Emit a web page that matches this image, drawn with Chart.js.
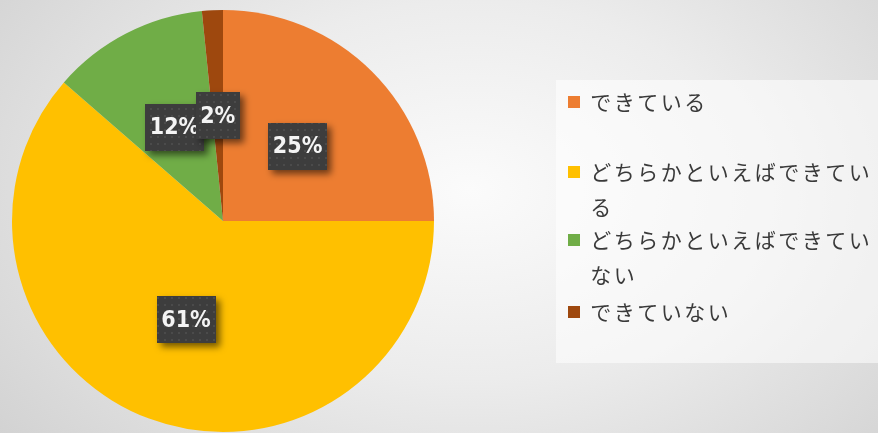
<!DOCTYPE html>
<html>
<head>
<meta charset="utf-8">
<script src="https://cdn.jsdelivr.net/npm/chart.js@4.4.1/dist/chart.umd.min.js"></script>
<style>
html,body{margin:0;padding:0;}
body{width:878px;height:433px;overflow:hidden;background:radial-gradient(ellipse 620px 420px at 470px 190px,#fbfbfb 0%,#ececec 45%,#d0d0d0 100%);}
#wrap{position:relative;width:878px;height:433px;}
</style>
</head>
<body>
<div id="wrap"><canvas id="c" width="878" height="433"></canvas></div>
<script>
// data
const categories=['できている','どちらかといえばできている','どちらかといえばできていない','できていない'];
const shares=[25.0,61.4,12.0,1.6];
const sliceColors=['#ED7D31','#FFC000','#70AD47','#9E480E'];

// dotted dark pattern for the value boxes
function makePattern(ctx){
const t=document.createElement('canvas');
t.width=7;t.height=7;
const g=t.getContext('2d');
g.fillStyle='#3d3d3d';g.fillRect(0,0,7,7);
g.fillStyle='#4b4b4b';g.fillRect(3,3,2,2);
return ctx.createPattern(t,'repeat');
}

const valueBoxes={
id:'valueBoxes',
afterDatasetsDraw(chart){
const ctx=chart.ctx;
const meta=chart.getDatasetMeta(0);
const pat=makePattern(ctx);
ctx.save();
ctx.font='bold 23px "DejaVu Sans Condensed", "DejaVu Sans", sans-serif';
ctx.textAlign='center';ctx.textBaseline='middle';
shares.forEach((v,i)=>{
const p=meta.data[i].tooltipPosition();
const txt=Math.round(v)+'%';
const w=ctx.measureText(txt).width+9,h=47;
ctx.save();
ctx.shadowColor='rgba(0,0,0,0.55)';ctx.shadowBlur=7;ctx.shadowOffsetX=4;ctx.shadowOffsetY=4;
ctx.fillStyle=pat;
ctx.fillRect(Math.round(p.x-w/2),Math.round(p.y-h/2),Math.round(w),h);
ctx.restore();
ctx.fillStyle='#f4f4f4';
ctx.fillText(txt,p.x,p.y+1);
});
ctx.restore();
}
};

const sideLegend={
id:'sideLegend',
afterDraw(chart){
const ctx=chart.ctx;
ctx.save();
ctx.fillStyle='rgba(255,255,255,0.55)';
ctx.fillRect(556,80,322,283);
const rows=[102,172,240,312];
const lineH=35,adv=23.5,maxChars=12;
ctx.font='21px "Noto Sans CJK JP", sans-serif';
ctx.textAlign='center';ctx.textBaseline='middle';
categories.forEach((lab,i)=>{
ctx.fillStyle=sliceColors[i];
ctx.fillRect(568,rows[i]-6,12,12);
ctx.fillStyle='#3a3a3a';
[...lab].forEach((ch,k)=>{
const line=Math.floor(k/maxChars),col=k%maxChars;
ctx.fillText(ch,589+adv/2+col*adv,rows[i]+line*lineH);
});
});
ctx.restore();
}
};

new Chart(document.getElementById('c'),{
type:'pie',
data:{
labels:categories,
datasets:[{data:shares,backgroundColor:sliceColors,borderWidth:0}]
},
options:{
responsive:false,
animation:false,
layout:{padding:{left:12,right:444,top:10,bottom:1}},
plugins:{legend:{display:false},tooltip:{enabled:false}}
},
plugins:[valueBoxes,sideLegend]
});
</script>
</body>
</html>
